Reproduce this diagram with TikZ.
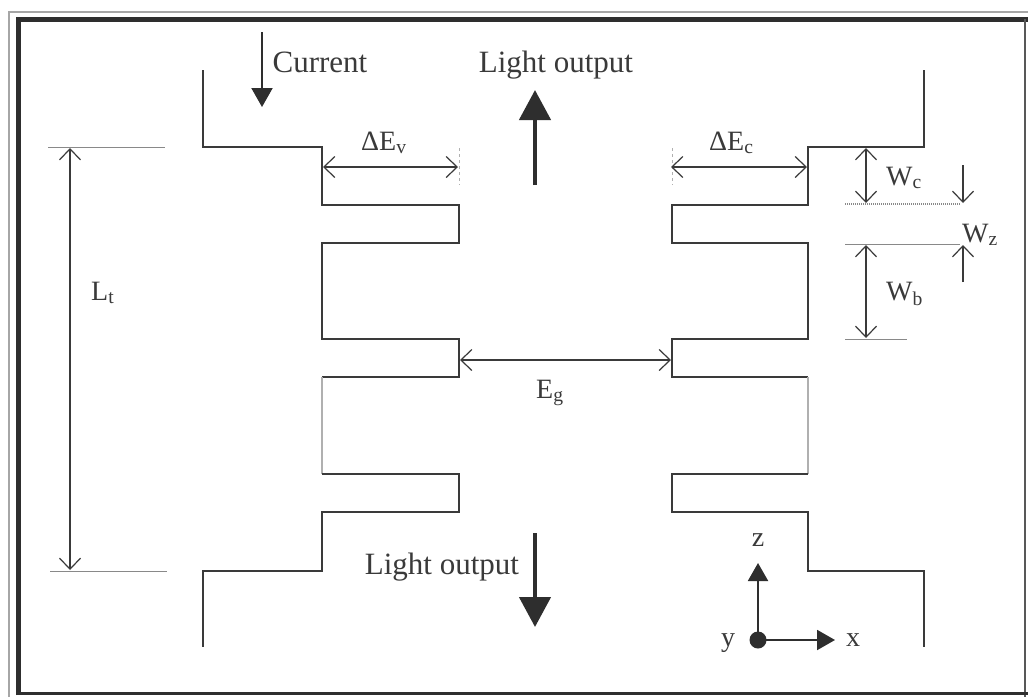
\documentclass[tikz,border=0pt]{standalone}
\usepackage{fontspec}
\setmainfont{Liberation Serif}
\usetikzlibrary{arrows.meta}
\definecolor{ink}{HTML}{3A3A3A}
\definecolor{frame}{HTML}{2E2E2E}
\begin{document}
\begin{tikzpicture}[x=1pt,y=-1pt,
  band/.style={draw=ink, line width=1.8pt},
  faint/.style={draw=ink!40, line width=1.2pt},
  guide/.style={draw=ink!60, line width=1pt},
  dim/.style={draw=ink, line width=1.2pt,
    {Straight Barb[length=11pt,width=21pt]}-{Straight Barb[length=11pt,width=21pt]}},
  dimone/.style={draw=ink, line width=1.2pt, -{Straight Barb[length=11pt,width=21pt]}},
  fat/.style={draw=frame, line width=4.5pt, -{Triangle[length=30pt,width=31pt]}},
  thinarrow/.style={draw=frame, line width=2pt, -{Triangle[length=19pt,width=21pt]}},
  axis/.style={draw=frame, line width=2pt, -{Triangle[length=18pt,width=20pt]}},
  big/.style={text=ink, inner sep=0pt, font=\fontsize{31}{36}\selectfont},
  lbl/.style={text=ink, inner sep=0pt, font=\fontsize{28}{33}\selectfont},
]
\useasboundingbox (0,0) rectangle (1028,697);
\fill[white] (0,0) rectangle (1028,697);
% frame
\draw[draw=gray!70, line width=1.5pt] (9,697) -- (9,12) -- (1028,12);
\draw[draw=frame, line width=5pt] (18,695) -- (18,19) -- (1028,19);
\draw[draw=frame!80, line width=1.5pt] (1025,19) -- (1025,697);
\draw[draw=frame, line width=3pt] (18,693) -- (1028,693);

% valence band (left)
\draw[band] (203,70) -- (203,147) -- (322,147) -- (322,205) -- (459,205) -- (459,243)
  -- (322,243) -- (322,339) -- (459,339) -- (459,377) -- (322,377);
\draw[faint] (322,377) -- (322,474);
\draw[band] (322,474) -- (459,474) -- (459,512) -- (322,512) -- (322,571) -- (203,571) -- (203,647);

% conduction band (right)
\draw[band] (924,70) -- (924,147) -- (808,147) -- (808,205) -- (672,205) -- (672,243)
  -- (808,243) -- (808,339) -- (672,339) -- (672,377) -- (808,377);
\draw[faint] (808,377) -- (808,474);
\draw[band] (808,474) -- (672,474) -- (672,512) -- (808,512) -- (808,571) -- (924,571) -- (924,647);

% guide lines
\draw[faint, dashed, line width=0.8pt] (459,148) -- (459,185);
\draw[faint, dashed, line width=0.8pt] (672,148) -- (672,185);
\draw[guide] (48,147) -- (165,147);
\draw[guide] (50,571) -- (167,571);
\draw[guide, densely dotted, line width=1.3pt] (845,204) -- (960,204);
\draw[guide] (845,244) -- (960,244);
\draw[guide] (845,339) -- (907,339);

% coordinates for dimension arrows
\coordinate (ev1) at (323,167);  \coordinate (ev2) at (458,167);
\coordinate (ec1) at (671,167);  \coordinate (ec2) at (807,167);
\coordinate (eg1) at (460,360);  \coordinate (eg2) at (671,360);
\coordinate (lt1) at (70,148);   \coordinate (lt2) at (70,570);
\coordinate (wc1) at (866,148);  \coordinate (wc2) at (866,203);
\coordinate (wb1) at (866,245);  \coordinate (wb2) at (866,338);
\coordinate (wz1) at (963,165);  \coordinate (wz2) at (963,203);
\coordinate (wz3) at (963,282);  \coordinate (wz4) at (963,245);

\draw[dim] (ev1) -- (ev2);
\draw[dim] (ec1) -- (ec2);
\draw[dim] (eg1) -- (eg2);
\draw[dim] (lt1) -- (lt2);
\draw[dim] (wc1) -- (wc2);
\draw[dim] (wb1) -- (wb2);
\draw[dimone] (wz1) -- (wz2);
\draw[dimone] (wz3) -- (wz4);

% big arrows
\coordinate (cur1) at (262,32);  \coordinate (cur2) at (262,107);
\coordinate (up1) at (535,185);  \coordinate (up2) at (535,90);
\coordinate (dn1) at (535,533);  \coordinate (dn2) at (535,627);
\draw[thinarrow] (cur1) -- (cur2);
\draw[fat] (up1) -- (up2);
\draw[fat] (dn1) -- (dn2);

% axes
\coordinate (org) at (758,640);
\coordinate (zax) at (758,563);
\coordinate (xax) at (835,640);
\draw[axis] (org) -- (zax);
\draw[axis] (org) -- (xax);
\fill[frame] (org) circle (8.5pt);

% labels
\node[big, anchor=base] (current) at (320,72) {Current};
\node[big, anchor=base] (lotop) at (556,72) {Light output};
\node[big, anchor=base] (lobot) at (442,574) {Light output};
\node[lbl, anchor=base west] (dev) at (361,150) {ΔE\textsubscript{v}};
\node[lbl, anchor=base west] (dec) at (709,150) {ΔE\textsubscript{c}};
\node[lbl, anchor=base west] (wc) at (886,185) {W\textsubscript{c}};
\node[lbl, anchor=base west] (wz) at (962,242) {W\textsubscript{z}};
\node[lbl, anchor=base west] (wb) at (886,300) {W\textsubscript{b}};
\node[lbl, anchor=base west] (lt) at (91,300) {L\textsubscript{t}};
\node[lbl, anchor=base west] (eg) at (536,398) {E\textsubscript{g}};
\node[lbl, anchor=base] (zl) at (758,546) {z};
\node[lbl, anchor=base] (yl) at (728,646) {y};
\node[lbl, anchor=base] (xl) at (853,646) {x};
\end{tikzpicture}
\end{document}
